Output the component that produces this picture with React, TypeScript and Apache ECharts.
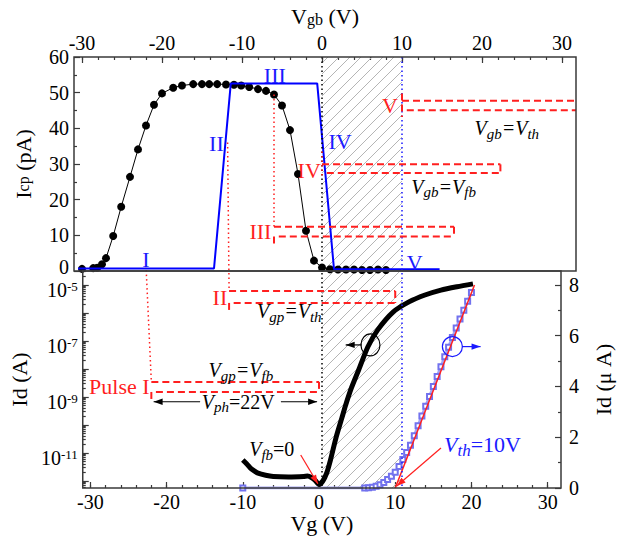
import React, { useEffect, useRef } from "react";
import * as echarts from "echarts";

const FONT = "'Liberation Serif', 'Times New Roman', serif";
const RED = "#ff1f1f";
const BLUE = "#1a1aff";
const LIGHT_BLUE = "#a4a4f4";
const AXIS = "#3a3a3a";

// ---- axis extents & tick labels ----
const V_MIN = -31;
const V_MAX = 31.75;
const ICP_MAX = 60;
const LOG_MIN = -12.25;
const LOG_MAX = -4.5;
const UA_MAX = 8.55;

const vTicks = [-30, -20, -10, 0, 10, 20, 30];
const icpTicks = [0, 10, 20, 30, 40, 50, 60];
const logLabelTicks = [-11, -9, -7, -5];
const logMajorTicks = [-12, -11, -10, -9, -8, -7, -6, -5];
const uaTicks = [0, 2, 4, 6, 8];

// ---- top panel: charge pumping current Icp (pA) vs Vgb (V) ----
const icpVgb = [-30.0, -28.6, -28.1, -27.5, -27.0, -26.1, -25.1, -24.0, -23.0, -22.0, -21.0, -20.0, -18.6, -17.5, -16.1, -15.0, -14.1, -13.1, -12.0, -11.0, -10.1, -9.1, -8.0, -7.0, -6.0, -5.0, -4.0, -3.0, -2.0, -1.0, 0.0, 1.0, 2.0, 3.0, 4.0, 5.0, 6.0, 7.0, 8.0];
const icpValues = [0.6, 0.8, 0.9, 1.9, 3.6, 9.8, 18.0, 26.4, 34.1, 40.8, 46.6, 49.8, 51.4, 52.0, 52.4, 52.4, 52.4, 52.4, 52.3, 52.2, 52.0, 51.6, 51.0, 50.5, 49.5, 46.4, 39.5, 27.2, 11.3, 2.9, 1.0, 0.5, 0.4, 0.4, 0.4, 0.3, 0.3, 0.4, 0.3];

// pulse-level schematic (blue trapezoid)
const pulseVgb = [-30.5, -13.5, -11.4, -0.6, 1.5, 14.7];
const pulseIcp = [0.7, 0.7, 52.6, 52.6, 0.5, 0.5];

// ---- bottom panel: transfer curve ----
const idVg = [-10, -9.5, -9, -8.5, -8, -7, -6, -4, -2, -1.5, -1, -0.5, 0, 0.5, 1, 1.5, 2.25, 3, 3.5, 4.25, 5.2, 6.4, 7.7, 9.75, 11.8, 13.9, 16, 18.1, 20.2];
const idAmp = [5.6e-12, 4.1e-12, 2.9e-12, 2.3e-12, 1.9e-12, 1.6e-12, 1.45e-12, 1.4e-12, 1.45e-12, 1.5e-12, 1.33e-12, 1.05e-12, 7.5e-13, 1.0e-12, 1.9e-12, 5.6e-12, 3.7e-11, 1.8e-10, 5.2e-10, 2.1e-9, 9.2e-9, 6.1e-8, 2.5e-7, 1.1e-6, 2.5e-6, 4.4e-6, 6.6e-6, 8.7e-6, 1.1e-5];

const idLinVg = [-10, 6, 6.5, 7, 7.5, 8, 8.5, 9, 9.5, 10, 10.5, 11, 11.5, 12, 12.5, 13, 13.5, 14, 14.5, 15, 15.5, 16, 16.5, 17, 17.5, 18, 18.5, 19, 19.5, 20];
const idLinUA = [0, 0, 0.01, 0.03, 0.07, 0.13, 0.22, 0.33, 0.46, 0.62, 0.85, 1.12, 1.4, 1.68, 2.06, 2.45, 2.84, 3.22, 3.61, 4.0, 4.39, 4.78, 5.17, 5.55, 5.93, 6.3, 6.66, 7.0, 7.36, 7.7];

const fitVg = [10, 20.4];
const fitUA = [0, 8.0];

function minorList(a: number, b: number, step: number) {
  const out: number[] = [];
  for (let v = a; v <= b + 1e-9; v += step) out.push(+v.toFixed(4));
  return out;
}
function logMinor() {
  const out: number[] = [];
  for (let d = -13; d <= -5; d++) for (let k = 2; k <= 9; k++) {
    const v = d + Math.log10(k);
    if (v > LOG_MIN && v < LOG_MAX) out.push(v);
  }
  return out;
}

const labelStyle = { fontFamily: FONT, fontSize: 20, color: "#000" };
const tickLine = { color: AXIS, width: 1.2 };

function xAxisPair(grid: number, pos: "top" | "bottom", name: string, nameGap: number) {
  return [
    {
      gridIndex: grid, type: "value", position: pos, min: V_MIN, max: V_MAX,
      axisLine: { show: false, onZero: false }, splitLine: { show: false },
      axisTick: { inside: true, length: 6, customValues: vTicks, lineStyle: tickLine },
      axisLabel: { ...labelStyle, customValues: vTicks, margin: 4 },
      name, nameLocation: "middle", nameGap,
      nameTextStyle: { fontFamily: FONT, fontSize: 22, color: "#000", rich: { s: { fontFamily: FONT, fontSize: 16, color: "#000", verticalAlign: "bottom", lineHeight: 18 } } },
    },
    {
      gridIndex: grid, type: "value", position: pos, min: V_MIN, max: V_MAX,
      axisLine: { show: false, onZero: false }, splitLine: { show: false },
      axisTick: { inside: true, length: 3, customValues: minorList(-30, 30, 2), lineStyle: tickLine },
      axisLabel: { show: false },
    },
  ];
}

export default function App() {
  const ref = useRef<HTMLDivElement>(null);
  useEffect(() => {
    const chart = echarts.init(ref.current!, null, { renderer: "svg" });
    const option: any = {
      animation: false,
      backgroundColor: "#fff",
      grid: [
        { left: 74, top: 57, width: 502, height: 214 },
        { left: 74, top: 271, width: 502, height: 217 },
      ],
      xAxis: [
        ...xAxisPair(0, "top", "V{s|gb} (V)", 30),
        ...xAxisPair(1, "bottom", "Vg (V)", 24),
      ],
      yAxis: [
        {
          gridIndex: 0, type: "value", position: "left", min: 0, max: ICP_MAX,
          axisLine: { show: false, onZero: false }, splitLine: { show: false },
          axisTick: { inside: true, length: 6, customValues: icpTicks, lineStyle: tickLine },
          axisLabel: {
            customValues: icpTicks, margin: 5,
            formatter: (v: number) => (v === 0 ? `{z|0}` : `{n|${v}}`),
            rich: {
              n: { fontFamily: FONT, fontSize: 20, color: "#000", lineHeight: 20 },
              z: { fontFamily: FONT, fontSize: 20, color: "#000", lineHeight: 20, padding: [0, 0, 8, 0] },
            },
          },
          name: "I{s|cp} (pA)", nameLocation: "middle", nameGap: 40, nameRotate: 90,
          nameTextStyle: { fontFamily: FONT, fontSize: 22, color: "#000", rich: { s: { fontFamily: FONT, fontSize: 16, color: "#000" } } },
        },
        {
          gridIndex: 0, type: "value", position: "left", min: 0, max: ICP_MAX,
          axisLine: { show: false, onZero: false }, splitLine: { show: false },
          axisTick: { inside: true, length: 3, customValues: minorList(5, 55, 10), lineStyle: tickLine },
          axisLabel: { show: false },
        },
        {
          gridIndex: 1, type: "value", position: "left", min: LOG_MIN, max: LOG_MAX,
          axisLine: { show: false, onZero: false }, splitLine: { show: false },
          axisTick: { inside: true, length: 6, customValues: logMajorTicks, lineStyle: tickLine },
          axisLabel: {
            customValues: logLabelTicks, margin: 5, padding: [9, 0, 0, 0],
            formatter: (v: number) => `{b|10}{s|${Math.round(v)}}`,
            rich: {
              b: { fontFamily: FONT, fontSize: 20, color: "#000", lineHeight: 20, verticalAlign: "bottom" },
              s: { fontFamily: FONT, fontSize: 13, color: "#000", lineHeight: 13, verticalAlign: "top", padding: [0, 0, 10, 0] },
            },
          },
          name: "Id (A)", nameLocation: "middle", nameGap: 48, nameRotate: 90,
          nameTextStyle: { fontFamily: FONT, fontSize: 22, color: "#000" },
        },
        {
          gridIndex: 1, type: "value", position: "left", min: LOG_MIN, max: LOG_MAX,
          axisLine: { show: false, onZero: false }, splitLine: { show: false },
          axisTick: { inside: true, length: 3, customValues: logMinor(), lineStyle: tickLine },
          axisLabel: { show: false },
        },
        {
          gridIndex: 1, type: "value", position: "right", min: 0, max: UA_MAX,
          axisLine: { show: false, onZero: false }, splitLine: { show: false },
          axisTick: { inside: true, length: 6, customValues: uaTicks, lineStyle: tickLine },
          axisLabel: { ...labelStyle, customValues: uaTicks, margin: 8 },
          name: "Id (μ A)", nameLocation: "middle", nameGap: 31, nameRotate: 90,
          nameTextStyle: { fontFamily: FONT, fontSize: 22, color: "#000" },
        },
        {
          gridIndex: 1, type: "value", position: "right", min: 0, max: UA_MAX,
          axisLine: { show: false, onZero: false }, splitLine: { show: false },
          axisTick: { inside: true, length: 3, customValues: [1, 3, 5, 7], lineStyle: tickLine },
          axisLabel: { show: false },
        },
      ],
      series: [
        {
          type: "line", xAxisIndex: 0, yAxisIndex: 0, z: 3,
          data: icpVgb.map((v, i) => [v, icpValues[i]]),
          symbol: "circle", symbolSize: 8, itemStyle: { color: "#000" },
          lineStyle: { color: "#000", width: 1 },
        },
        {
          type: "line", xAxisIndex: 0, yAxisIndex: 0, z: 4,
          data: pulseVgb.map((v, i) => [v, pulseIcp[i]]),
          symbol: "none", lineStyle: { color: "#0000ff", width: 2 },
        },
        {
          type: "line", xAxisIndex: 2, yAxisIndex: 2, z: 4, smooth: 0.25,
          data: idVg.map((v, i) => [v, Math.log10(idAmp[i])]),
          symbol: "none", lineStyle: { color: "#000", width: 5 },
        },
        {
          type: "line", xAxisIndex: 2, yAxisIndex: 4, z: 3, smooth: 0.25,
          data: idLinVg.map((v, i) => [v, idLinUA[i]]),
          symbol: "emptyRect", symbolSize: 5, showSymbol: true,
          itemStyle: { color: "#7272ee", borderWidth: 1 },
          lineStyle: { color: LIGHT_BLUE, width: 3 },
        },
        {
          type: "line", xAxisIndex: 2, yAxisIndex: 4, z: 5,
          data: fitVg.map((v, i) => [v, fitUA[i]]),
          symbol: "none", lineStyle: { color: RED, width: 1.5 },
        },
      ],
    };
    chart.setOption(option);

    // ---------- annotations placed through the axes' own scales ----------
    const P0 = (x: number, y: number) => chart.convertToPixel({ xAxisIndex: 0, yAxisIndex: 0 }, [x, y]) as number[];
    const P1 = (x: number, y: number) => chart.convertToPixel({ xAxisIndex: 2, yAxisIndex: 2 }, [x, y]) as number[];
    const els: any[] = [];
    const line = (a: number[], b: number[], style: any, z = 20) =>
      els.push({ type: "line", z, silent: true, shape: { x1: a[0], y1: a[1], x2: b[0], y2: b[1] }, style: { fill: null, ...style } });
    const dash = { stroke: RED, lineWidth: 2, lineDash: [7, 4] };
    const dotR = { stroke: RED, lineWidth: 1.5, lineDash: [1.5, 3] };
    const arrow = (a: number[], b: number[], color: string, w = 1.2) => {
      line(a, b, { stroke: color, lineWidth: w });
      const dx = b[0] - a[0], dy = b[1] - a[1];
      const L = Math.hypot(dx, dy) || 1;
      const ux = dx / L, uy = dy / L, s = 9, h = 3.2;
      els.push({
        type: "polygon", z: 21, silent: true,
        shape: { points: [[b[0], b[1]], [b[0] - ux * s - uy * h, b[1] - uy * s + ux * h], [b[0] - ux * s + uy * h, b[1] - uy * s - ux * h]] },
        style: { fill: color },
      });
    };
    const richFor = (color: string, size: number) => ({
      i: { fontFamily: FONT, fontStyle: "italic", fontSize: size, fill: color, color, lineHeight: size + 6, verticalAlign: "middle" },
      s: { fontFamily: FONT, fontStyle: "italic", fontSize: Math.round(size * 0.75), fill: color, color, lineHeight: Math.round(size * 0.75), verticalAlign: "bottom" },
      n: { fontFamily: FONT, fontSize: size, fill: color, color, lineHeight: size + 6, verticalAlign: "middle" },
    });
    const text = (p: number[], str: string, color: string, size = 22, align = "center", rich?: any) =>
      els.push({
        type: "text", z: 25, silent: true, x: p[0], y: p[1],
        style: { text: str, fill: color, fontFamily: FONT, fontSize: size, align, verticalAlign: "middle", rich },
      });

    // frames
    const tl0 = P0(V_MIN, ICP_MAX), br0 = P0(V_MAX, 0);
    const tl1 = P1(V_MIN, LOG_MAX), br1 = P1(V_MAX, LOG_MIN);
    els.push({ type: "rect", z: 30, silent: true, shape: { x: tl0[0], y: tl0[1], width: br0[0] - tl0[0], height: br0[1] - tl0[1] }, style: { fill: null, stroke: AXIS, lineWidth: 1.5 } });
    els.push({ type: "rect", z: 30, silent: true, shape: { x: tl1[0], y: tl1[1], width: br1[0] - tl1[0], height: br1[1] - tl1[1] }, style: { fill: null, stroke: AXIS, lineWidth: 1.5 } });

    // hatched window 0 V .. 10 V across both panels
    const xa = P0(0, 0)[0], xb = P0(10, 0)[0], yt = tl0[1], yb = br1[1];
    for (let c = xa + yt + 6; c < xb + yb; c += 11) {
      const xs = Math.max(xa, c - yb), xe = Math.min(xb, c - yt);
      if (xe > xs) line([xs, c - xs], [xe, c - xe], { stroke: "#b5b5b5", lineWidth: 1 }, 1);
    }
    line([xa, yt], [xa, yb], { stroke: "#000", lineWidth: 1.5, lineDash: [1.5, 3] }, 6);
    line([xb, yt], [xb, yb], { stroke: BLUE, lineWidth: 1.5, lineDash: [1.5, 3] }, 6);

    // V level
    line(P0(10, 47.7), P0(V_MAX, 47.7), dash);
    line(P0(10.6, 45.1), P0(V_MAX, 45.1), dash);
    line(P0(10, 49.8), P0(10, 43.2), dash);
    // IV level
    line(P0(0, 29.9), P0(22.3, 29.9), dash);
    line(P0(0.6, 27.5), P0(22.3, 27.5), dash);
    line(P0(22.3, 29.9), P0(22.3, 27.5), dash);
    line(P0(0, 33.5), P0(0, 26), dotR);
    // III level
    line(P0(-6, 12.4), P0(16.5, 12.4), dash);
    line(P0(-5.4, 9.7), P0(16.5, 9.7), dash);
    line(P0(16.5, 12.4), P0(16.5, 9.7), dash);
    line(P0(-6, 49.5), P0(-6, 12.4), dotR);
    line(P0(-6, 9.7), P0(-6, 6.8), dash);
    // II level
    line(P0(-11.8, 36), P1(-11.8, -5.21), dotR);
    line(P1(-11.8, -5.21), P1(10, -5.21), dash);
    line(P1(-11.2, -5.64), P1(10, -5.64), dash);
    line(P1(10, -5.21), P1(10, -5.64), dash);
    line(P1(-11.8, -5.64), P1(-11.8, -5.96), dash);
    // Pulse I level
    line(P0(-22, 1.5), P1(-22, -8.46), dotR);
    line(P1(-22, -8.46), P1(0, -8.46), dash);
    line(P1(-21.4, -8.82), P1(0, -8.82), dash);
    line(P1(0, -8.46), P1(0, -8.82), dash);
    line(P1(-22, -8.82), P1(-22, -9.14), dash);

    // Vph arrows
    arrow(P1(-15.6, -9.17), P1(-21.7, -9.17), "#000");
    arrow(P1(-5.0, -9.17), P1(-0.25, -9.17), "#000");
    // Vfb and Vth pointers
    arrow(P1(-2.4, -11.07), P1(-0.15, -12.1), RED);
    arrow(P1(16.0, -10.82), P1(10.2, -12.18), RED);
    // axis-indicating circles
    const cb = P1(6.75, -7.14), cbl = P1(5.6, -7.14), cbe = P1(3.5, -7.14);
    els.push({ type: "ellipse", z: 22, silent: true, shape: { cx: cb[0], cy: cb[1], rx: 9.5, ry: 11 }, style: { fill: null, stroke: "#000", lineWidth: 1.2 } });
    arrow(cbl, cbe, "#000");
    const cu = P1(17.5, -7.2), cur = P1(18.75, -7.2), cue = P1(21.2, -7.2);
    els.push({ type: "ellipse", z: 22, silent: true, shape: { cx: cu[0], cy: cu[1], rx: 10, ry: 10 }, style: { fill: null, stroke: BLUE, lineWidth: 1.2 } });
    arrow(cur, cue, BLUE);

    // labels: blue regions
    text(P0(-22, 3.1), "I", BLUE);
    text(P0(-13.2, 35.8), "II", BLUE);
    text(P0(-5.9, 54.9), "III", BLUE);
    text(P0(2.25, 36.2), "IV", BLUE);
    text(P0(11.6, 2.5), "V", BLUE);
    // labels: red pulse levels
    text(P0(8.5, 46.5), "V", RED);
    text(P0(-1.6, 28.3), "IV", RED);
    text(P0(-7.7, 11.0), "III", RED);
    text(P1(-13.0, -5.45), "II", RED);
    text(P1(-26.2, -8.64), "Pulse I", RED);

    const rk = richFor("#000", 20);
    text(P0(23.1, 40), "{i|V}{s|gb}{i|=V}{s|th}", "#000", 20, "center", rk);
    text(P0(15.2, 23.6), "{i|V}{s|gb}{i|=V}{s|fb}", "#000", 20, "center", rk);
    text(P1(-3.9, -5.93), "{i|V}{s|gp}{i|=V}{s|th}", "#000", 20, "center", rk);
    text(P1(-10.25, -8.04), "{i|V}{s|gp}{i|=V}{s|fb}", "#000", 20, "center", rk);
    text(P1(-10.6, -9.17), "{i|V}{s|ph}{n|=22V}", "#000", 20, "center", rk);
    text(P1(-6.2, -10.86), "{i|V}{s|fb}{n|=0}", "#000", 20, "center", rk);
    text(P1(16.4, -10.71), "{i|V}{s|th}{n|=10V}", BLUE, 22, "left", richFor(BLUE, 22));

    chart.setOption({ graphic: { elements: els } });
    return () => chart.dispose();
  }, []);
  return <div ref={ref} style={{ position: "absolute", left: 0, top: 0, width: 622, height: 537 }} />;
}
